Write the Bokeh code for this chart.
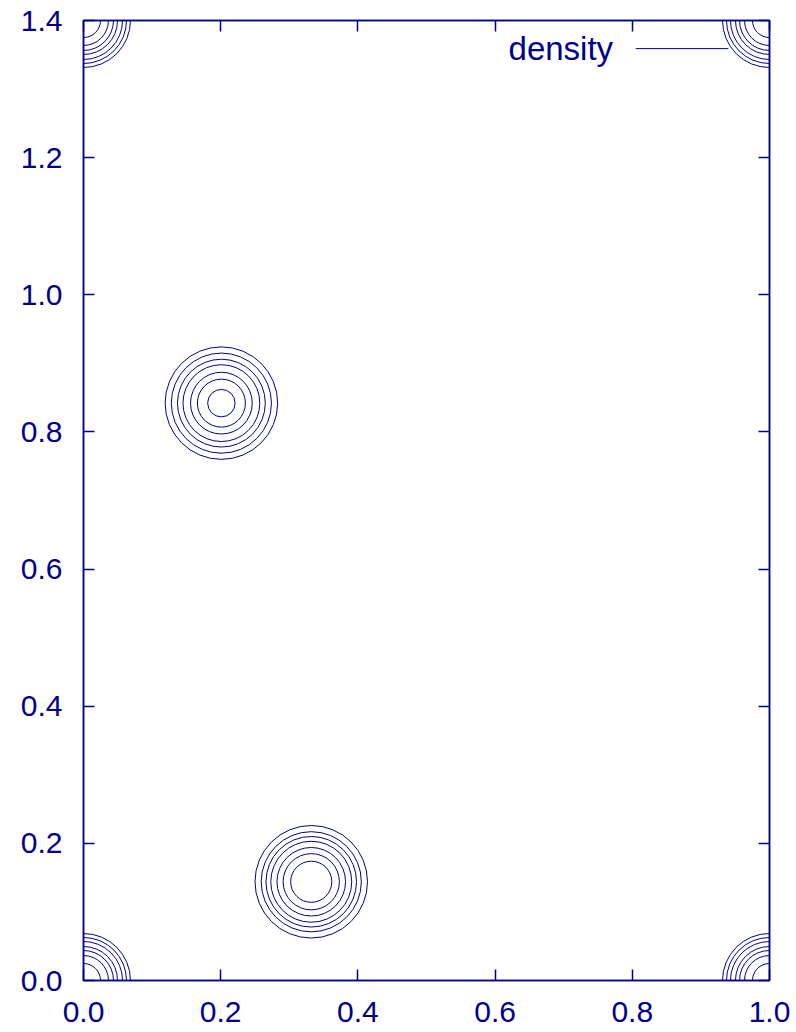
from bokeh.plotting import figure
from bokeh.models import FixedTicker, LinearAxis, Range1d, Label, ColumnDataSource
from bokeh.embed import file_html
from bokeh.resources import INLINE

# ---- data ----
site_x = [0.201, 0.332, 0.0, 1.0, 0.0, 1.0]
site_y = [0.842, 0.144, 0.0, 0.0, 1.4, 1.4]
rings_a = [0.082, 0.073, 0.064, 0.056, 0.045, 0.035, 0.020]
rings_b = [0.082, 0.073, 0.066, 0.059, 0.050, 0.041, 0.030]
rings_corner = [0.0685, 0.0627, 0.0569, 0.0496, 0.0437, 0.0364, 0.0248]
site_rings = [rings_a, rings_b, rings_corner, rings_corner, rings_corner, rings_corner]
x_ticks = [0.0, 0.2, 0.4, 0.6, 0.8, 1.0]
y_ticks = [0.0, 0.2, 0.4, 0.6, 0.8, 1.0, 1.2, 1.4]
series_name = "density"

NAVY = "#00008b"
FONT = "Liberation Sans"
FS = "30px"

cx, cy, cr = [], [], []
for sx, sy, rr in zip(site_x, site_y, site_rings):
    for r in rr:
        cx.append(sx)
        cy.append(sy)
        cr.append(r)
src = ColumnDataSource(dict(x=cx, y=cy, r=cr))

p = figure(frame_width=686, frame_height=960,
           x_range=Range1d(0, 1), y_range=Range1d(0, 1.4),
           output_backend="svg", toolbar_location=None,
           min_border_left=83, min_border_top=20, min_border_right=26,
           min_border_bottom=50)
p.background_fill_color = "white"
p.border_fill_color = "white"
p.outline_line_color = NAVY
p.outline_line_width = 1.5
p.xgrid.visible = False
p.ygrid.visible = False

p.circle("x", "y", radius="r", source=src, fill_color=None,
         line_color=NAVY, line_width=1)

def style_axis(ax, ticks, show_labels):
    ax.ticker = FixedTicker(ticks=ticks)
    ax.major_tick_in = 11
    ax.major_tick_out = 0
    ax.minor_tick_line_color = None
    ax.major_tick_line_color = NAVY
    ax.major_tick_line_width = 1.5
    ax.axis_line_color = NAVY
    ax.axis_line_width = 1.5
    ax.major_label_text_font = FONT
    ax.major_label_text_color = NAVY
    if show_labels:
        ax.major_label_text_font_size = FS
        ax.major_label_overrides = {t: f"{t:.1f}" for t in ticks}
    else:
        ax.major_label_text_font_size = "0px"
        ax.major_label_standoff = 0
        ax.major_label_overrides = {t: "" for t in ticks}

style_axis(p.xaxis[0], x_ticks, True)
style_axis(p.yaxis[0], y_ticks, True)
p.xaxis[0].major_label_standoff = 21
p.yaxis[0].major_label_standoff = 21

top = LinearAxis()
right = LinearAxis()
style_axis(top, x_ticks, False)
style_axis(right, y_ticks, False)
p.add_layout(top, "above")
p.add_layout(right, "right")

# key (text left of the sample line, as in the reference)
LEG_TEXT_X, LEG_Y = 0.772, 1.359
LEG_X0, LEG_X1 = 0.805, 0.940
p.add_layout(Label(x=LEG_TEXT_X, y=LEG_Y, text=series_name, text_align="right",
                   text_baseline="middle", text_font=FONT, text_font_size="33px",
                   text_color=NAVY))
p.segment(x0=[LEG_X0], y0=[LEG_Y], x1=[LEG_X1], y1=[LEG_Y], line_color=NAVY,
          line_width=1)

open("out.html", "w").write(file_html(p, INLINE))
